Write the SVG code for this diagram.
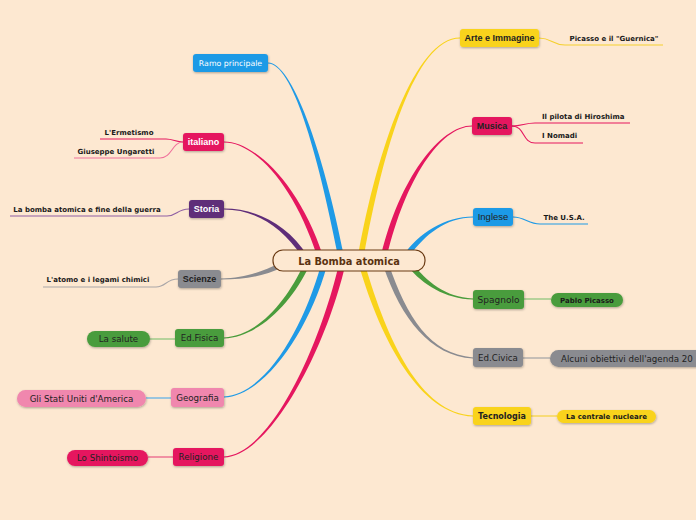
<svg xmlns="http://www.w3.org/2000/svg" width="696" height="520" viewBox="0 0 696 520">
<defs>
<filter id="sh" x="-20%" y="-30%" width="140%" height="170%">
<feDropShadow dx="0.5" dy="1" stdDeviation="0.8" flood-color="#000" flood-opacity="0.3"/>
</filter>
<style>
.bg{fill:#fde8d1}
.dv{font-family:"DejaVu Sans",Verdana,sans-serif;font-size:8.7px;fill:#222;text-anchor:middle}
.lb{font-family:"Liberation Sans",Arial,sans-serif;font-size:9px;font-weight:bold;fill:#222;text-anchor:middle}
.lf{font-family:"DejaVu Sans",Verdana,sans-serif;font-size:7px;font-weight:bold;fill:#1a1a1a;text-anchor:middle}
.w{fill:#fff}
.n{filter:url(#sh)}
.ln{fill:none;stroke-width:1.1}
.blue{fill:#1f9ae6}.red{fill:#e5175f}.pur{fill:#5f2d79}.gray{fill:#8a8b90}.grn{fill:#4a9c3c}.pink{fill:#f087ae}.yel{fill:#f9d31b}
</style>
</defs>
<rect class="bg" x="0" y="0" width="696" height="520"/>
<g id="connectors">
<path class="blue" d="M268,63.6 C292,63.6 317,150 338,256 L344,256 C323,150 292,62.4 268,62.4Z"/>
<path class="red" d="M224,142.6 C255,142.6 294,185 317,256 L323,256 C300,185 255,141.4 224,141.4Z"/>
<path class="pur" d="M224,209.6 C255,209.6 282.8,226.4 303.8,259.4 L308.2,256.6 C287.2,223.6 255,208.4 224,208.4Z"/>
<path class="gray" d="M221,279.6 C245,279.6 263,276.3 283,267.3 L281,262.7 C261,271.7 245,278.4 221,278.4Z"/>
<path class="grn" d="M224,338.6 C260,336.6 292.5,301.2 308.5,267.2 L303.5,264.8 C287.5,298.8 260,335.4 224,337.4Z"/>
<path class="blue" d="M224,397.6 C265,395.6 308.9,330.8 326.9,265.8 L321.1,264.2 C303.1,329.2 265,394.4 224,396.4Z"/>
<path class="red" d="M224,457.6 C270,455.6 325.1,350.7 345.1,265.7 L338.9,264.3 C318.9,349.3 270,454.4 224,456.4Z"/>
<path class="yel" d="M460,37.4 C415,37.4 377.1,149.5 358.1,255.5 L363.9,256.5 C382.9,150.5 415,38.6 460,38.6Z"/>
<path class="red" d="M472,125.4 C440,125.4 399.1,179.3 381.1,255.3 L386.9,256.7 C404.9,180.7 440,126.6 472,126.6Z"/>
<path class="blue" d="M473,216.4 C445,216.4 417.6,233.5 402.6,256.5 L407.4,259.5 C422.4,236.5 445,217.6 473,217.6Z"/>
<path class="grn" d="M473,298.4 C445,297.4 427,281.3 412,263.3 L408,266.7 C423,284.7 445,298.6 473,299.6Z"/>
<path class="gray" d="M473,357.4 C430,354.4 406.7,317.1 388.7,264.1 L383.3,265.9 C401.3,318.9 430,355.6 473,358.6Z"/>
<path class="yel" d="M473,415.4 C420,413.4 386.9,339.2 364.9,264.2 L359.1,265.8 C381.1,340.8 420,414.6 473,416.6Z"/>
<path class="ln" stroke="#e5175f" d="M183,142 C176,142 173,139 166,139 L100,139"/>
<path class="ln" stroke="#f0709b" d="M183,142 C172,142 172,158 160,158 L74,158"/>
<path class="ln" stroke="#8f5fa3" d="M189,209 C177,209 177,216 167,216 L10,216"/>
<path class="ln" stroke="#a9a6a8" d="M178,279 C166,279 166,287 156,287 L43,287"/>
<path class="ln" stroke="#7fbf6f" d="M175,339 L150,339"/>
<path class="ln" stroke="#4aa8ea" d="M171,398 L146,398"/>
<path class="ln" stroke="#e84a7c" d="M173,457 L148,457"/>
<path class="ln" stroke="#f5d02e" d="M539,38 C552,38 552,45 565,45 L663,45"/>
<path class="ln" stroke="#e5175f" d="M512,126 C522,126 525,123 535,123 L630,123"/>
<path class="ln" stroke="#e5175f" d="M512,126 C525,126 522,143 535,143 L583,143"/>
<path class="ln" stroke="#1f9ae6" d="M513,217 C525,217 528,224 540,224 L588,224"/>
<path class="ln" stroke="#7fbf6f" d="M524,299 L551,299"/>
<path class="ln" stroke="#9a9ba0" d="M523,358 L550,358"/>
<path class="ln" stroke="#f5d02e" d="M531,416 L557,416"/>
</g>
<g id="center">
<rect x="273" y="250" width="152" height="21" rx="10" fill="#fde8d1" stroke="#6b3b14" stroke-width="1.2"/>
<text x="349" y="264.5" style="font-family:'DejaVu Sans',Verdana,sans-serif;font-size:9.8px;font-weight:bold;fill:#5a3210;text-anchor:middle">La Bomba atomica</text>
</g>
<g id="ramo"><rect class="n blue" x="193" y="54" width="75" height="18" rx="3"/><text class="dv w" x="230.5" y="66" style="font-size:7.8px">Ramo principale</text></g>
<g id="italiano"><rect class="n red" x="183" y="133" width="41" height="18" rx="3"/><text class="lb w" x="203.5" y="145.3">italiano</text></g>
<g id="storia"><rect class="n pur" x="189" y="200" width="35" height="18" rx="3"/><text class="lb w" x="206.5" y="212.3">Storia</text></g>
<g id="scienze"><rect class="n gray" x="178" y="270" width="43" height="18" rx="3"/><text class="lb" x="199.5" y="282.3">Scienze</text></g>
<g id="edfisica"><rect class="n grn" x="175" y="329" width="49" height="18" rx="3"/><text class="dv" x="199.5" y="341.2">Ed.Fisica</text></g>
<g id="geografia"><rect class="n pink" x="171" y="388" width="53" height="19" rx="3"/><text class="dv" x="197.5" y="400.8">Geografia</text></g>
<g id="religione"><rect class="n red" x="173" y="448" width="51" height="18" rx="3"/><text class="dv" x="198.5" y="460.2">Religione</text></g>
<g id="arte"><rect class="n yel" x="460" y="29" width="79" height="18" rx="3"/><text class="lb" x="499.5" y="41.2">Arte e Immagine</text></g>
<g id="musica"><rect class="n red" x="472" y="117" width="40" height="18" rx="3"/><text class="lb" x="492" y="129.3">Musica</text></g>
<g id="inglese"><rect class="n blue" x="473" y="208" width="40" height="18" rx="3"/><text class="lb" x="493" y="220.3" style="font-weight:normal;font-size:9.5px">Inglese</text></g>
<g id="spagnolo"><rect class="n grn" x="473" y="290" width="51" height="19" rx="3"/><text class="dv" x="498.5" y="302.8" style="font-size:9px">Spagnolo</text></g>
<g id="edcivica"><rect class="n gray" x="473" y="348" width="50" height="19" rx="3"/><text class="dv" x="498" y="360.8">Ed.Civica</text></g>
<g id="tecnologia"><rect class="n yel" x="473" y="407" width="58" height="18" rx="3"/><text class="dv" x="502" y="419" style="font-weight:bold;font-size:8px">Tecnologia</text></g>
<g id="ermetismo"><text class="lf" x="129" y="134.5">L'Ermetismo</text></g>
<g id="ungaretti"><text class="lf" x="116" y="154">Giuseppe Ungaretti</text></g>
<g id="finguerra"><text class="lf" x="87" y="211.5">La bomba atomica e fine della guerra</text></g>
<g id="atomo"><text class="lf" x="98" y="281.5">L'atomo e i legami chimici</text></g>
<g id="salute"><rect class="n grn" x="87" y="331" width="63" height="16" rx="8"/><text class="dv" x="118.5" y="342.2">La salute</text></g>
<g id="usa2"><rect class="n pink" x="17" y="390" width="129" height="17" rx="8.5"/><text class="dv" x="81.5" y="401.9">Gli Stati Uniti d'America</text></g>
<g id="shinto"><rect class="n red" x="67" y="450" width="81" height="16" rx="8"/><text class="dv" x="107.5" y="461.4">Lo Shintoismo</text></g>
<g id="guernica"><text class="lf" x="614" y="40.5">Picasso e il "Guernica"</text></g>
<g id="pilota"><text class="lf" x="542" y="118.5" style="text-anchor:start">Il pilota di Hiroshima</text></g>
<g id="nomadi"><text class="lf" x="542" y="137.5" style="text-anchor:start">I Nomadi</text></g>
<g id="usa"><text class="lf" x="564" y="219.5">The U.S.A.</text></g>
<g id="picasso"><rect class="n grn" x="551" y="293" width="72" height="14" rx="7"/><text class="lf" x="587" y="302.5">Pablo Picasso</text></g>
<g id="agenda"><rect class="n gray" x="550" y="350" width="160" height="17" rx="8.5"/><text class="dv" x="561" y="361.8" style="text-anchor:start">Alcuni obiettivi dell'agenda 20</text></g>
<g id="centrale"><rect class="n yel" x="557" y="410" width="99" height="13" rx="6.5"/><text class="lf" x="606.5" y="419">La centrale nucleare</text></g>
</svg>
